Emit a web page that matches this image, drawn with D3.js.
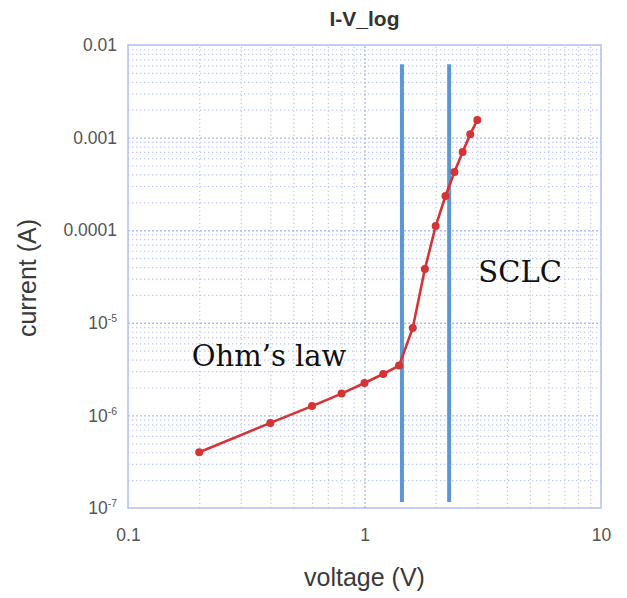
<!DOCTYPE html>
<html>
<head>
<meta charset="utf-8">
<script src="https://cdn.jsdelivr.net/npm/d3@7"></script>
<style>
  html, body { margin: 0; padding: 0; background: #fff; }
  svg { display: block; }
</style>
</head>
<body>
<svg id="chart" width="627" height="598"></svg>
<script>
// ---- data ----
const voltage = [0.2, 0.4, 0.6, 0.8, 1.0, 1.2, 1.4, 1.6, 1.8, 2.0, 2.2, 2.4, 2.6, 2.8, 3.0];
const current = [4.0e-7, 8.3e-7, 1.26e-6, 1.72e-6, 2.24e-6, 2.80e-6, 3.45e-6, 8.8e-6, 3.8e-5, 1.11e-4, 2.34e-4, 4.25e-4, 7.0e-4, 1.09e-3, 1.55e-3];
const markerLinesX = [1.44, 2.28];
const markerLinesY = [6.2e-3, 1.16e-7];
const xTickValues = [0.1, 1, 10];
const xTickLabels = ["0.1", "1", "10"];
const yTickValues = [1e-2, 1e-3, 1e-4, 1e-5, 1e-6, 1e-7];
const yTickLabels = [["0.01", ""], ["0.001", ""], ["0.0001", ""], ["10", "-5"], ["10", "-6"], ["10", "-7"]];
const annotations = [
  { text: "Ohm\u2019s law", x: 0.186, y: 3.42e-6 },
  { text: "SCLC", x: 3.03, y: 2.76e-5 }
];
const titleText = "I-V_log";
const xLabel = "voltage (V)";
const yLabel = "current (A)";

// ---- layout ----
const margin = { left: 128, right: 26, top: 45, bottom: 90 };
const W = 627, H = 598;
const svg = d3.select("#chart");

const x = d3.scaleLog().domain([0.1, 10]).range([margin.left, W - margin.right]);
const y = d3.scaleLog().domain([1e-7, 1e-2]).range([H - margin.bottom, margin.top]);

const gridColor = "#bcc8f4";
const minorX = [];
[0.1, 1].forEach(d => { for (let k = 2; k <= 9; k++) minorX.push(d * k); });
const minorY = [];
[1e-7, 1e-6, 1e-5, 1e-4, 1e-3].forEach(d => { for (let k = 2; k <= 9; k++) minorY.push(d * k); });

const grid = svg.append("g");
// minor grid
grid.append("g").call(d3.axisBottom(x).tickValues(minorX).tickSize(-(y.range()[0] - y.range()[1])).tickFormat(""))
  .attr("transform", `translate(0,${y.range()[0]})`)
  .call(g => g.select(".domain").remove())
  .call(g => g.selectAll("line").attr("stroke", gridColor).attr("stroke-width", 1.2).attr("stroke-dasharray", "1.3,2.7"));
grid.append("g").call(d3.axisLeft(y).tickValues(minorY).tickSize(-(x.range()[1] - x.range()[0])).tickFormat(""))
  .attr("transform", `translate(${x.range()[0]},0)`)
  .call(g => g.select(".domain").remove())
  .call(g => g.selectAll("line").attr("stroke", gridColor).attr("stroke-width", 1.2).attr("stroke-dasharray", "1.3,2.7"));
// major grid
grid.append("g").call(d3.axisBottom(x).tickValues([1]).tickSize(-(y.range()[0] - y.range()[1])).tickFormat(""))
  .attr("transform", `translate(0,${y.range()[0]})`)
  .call(g => g.select(".domain").remove())
  .call(g => g.selectAll("line").attr("stroke", "#adbbf1").attr("stroke-width", 1.4).attr("stroke-dasharray", "2,2"));
grid.append("g").call(d3.axisLeft(y).tickValues([1e-3, 1e-4, 1e-5, 1e-6]).tickSize(-(x.range()[1] - x.range()[0])).tickFormat(""))
  .attr("transform", `translate(${x.range()[0]},0)`)
  .call(g => g.select(".domain").remove())
  .call(g => g.selectAll("line").attr("stroke", "#adbbf1").attr("stroke-width", 1.4).attr("stroke-dasharray", "2,2"));

// frame
svg.append("rect")
  .attr("x", x.range()[0]).attr("y", y.range()[1])
  .attr("width", x.range()[1] - x.range()[0]).attr("height", y.range()[0] - y.range()[1])
  .attr("fill", "none").attr("stroke", "#b0bef1").attr("stroke-width", 1.5);

// axes labels (ticks)
const xAxis = svg.append("g").attr("transform", `translate(0,${y.range()[0]})`)
  .call(d3.axisBottom(x).tickValues(xTickValues).tickSize(0).tickPadding(21)
    .tickFormat((d, i) => xTickLabels[i]));
xAxis.select(".domain").remove();
xAxis.selectAll("text").attr("font-family", "Liberation Sans, Arial, sans-serif")
  .attr("font-size", 17.5).attr("fill", "#555");

const yAxis = svg.append("g").attr("transform", `translate(${x.range()[0]},0)`)
  .call(d3.axisLeft(y).tickValues(yTickValues).tickSize(0).tickPadding(11).tickFormat(""));
yAxis.select(".domain").remove();
yAxis.selectAll(".tick text").each(function (d, i) {
  const t = d3.select(this)
    .attr("font-family", "Liberation Sans, Arial, sans-serif")
    .attr("font-size", 17.5).attr("fill", "#555");
  const lab = yTickLabels[i];
  t.append("tspan").text(lab[0]);
  if (lab[1]) t.append("tspan").attr("dy", -7).attr("font-size", 10.5).text(lab[1]);
});

// blue vertical lines
svg.append("g").selectAll("line").data(markerLinesX).join("line")
  .attr("x1", d => x(d)).attr("x2", d => x(d))
  .attr("y1", y(markerLinesY[0])).attr("y2", y(markerLinesY[1]))
  .attr("stroke", "#5b97d2").attr("stroke-width", 4);

// data line
const pts = voltage.map((v, i) => [v, current[i]]);
svg.append("path").datum(pts)
  .attr("fill", "none").attr("stroke", "#d63434").attr("stroke-width", 2.6)
  .attr("d", d3.line().x(d => x(d[0])).y(d => y(d[1])));
svg.append("g").selectAll("circle").data(pts).join("circle")
  .attr("cx", d => x(d[0])).attr("cy", d => y(d[1])).attr("r", 4)
  .attr("fill", "#d63434");

// annotations
svg.append("g").selectAll("text").data(annotations).join("text")
  .attr("x", d => x(d.x)).attr("y", d => y(d.y))
  .attr("font-family", "DejaVu Serif, serif").attr("font-size", 29).attr("fill", "#111")
  .text(d => d.text);

// title & axis titles
svg.append("text").attr("x", (x.range()[0] + x.range()[1]) / 2).attr("y", 26)
  .attr("text-anchor", "middle").attr("font-family", "Liberation Sans, Arial, sans-serif")
  .attr("font-weight", "bold").attr("font-size", 21).attr("fill", "#333").text(titleText);
svg.append("text").attr("x", (x.range()[0] + x.range()[1]) / 2).attr("y", 586)
  .attr("text-anchor", "middle").attr("font-family", "Liberation Sans, Arial, sans-serif")
  .attr("font-size", 25).attr("fill", "#3a3a3a").text(xLabel);
svg.append("text").attr("transform", `translate(36,278) rotate(-90)`)
  .attr("text-anchor", "middle").attr("font-family", "Liberation Sans, Arial, sans-serif")
  .attr("font-size", 25).attr("fill", "#3a3a3a").text(yLabel);
</script>
</body>
</html>
